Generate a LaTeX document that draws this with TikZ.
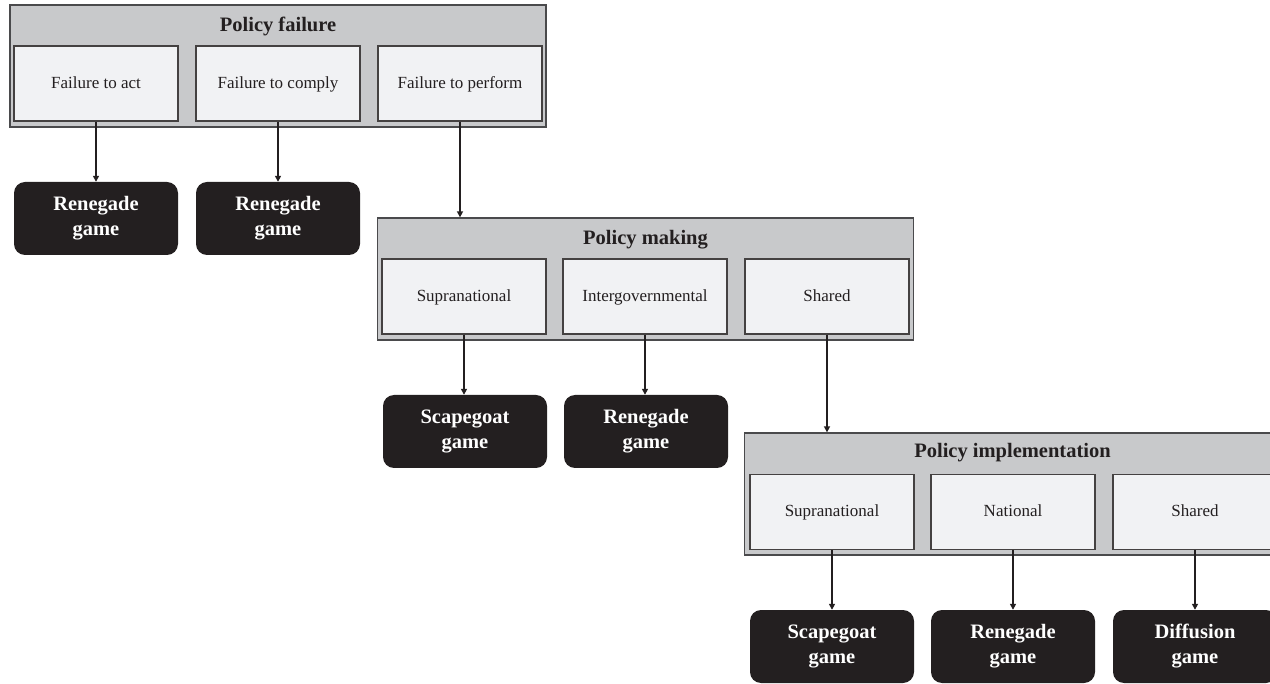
\documentclass[tikz,border=0pt]{standalone}
\usepackage{fontspec}
\setmainfont{Liberation Serif}
\usetikzlibrary{arrows.meta}
\definecolor{groupfill}{HTML}{C8C9CB}
\definecolor{itemfill}{HTML}{F1F2F4}
\definecolor{edgegray}{HTML}{4A4A4C}
\definecolor{gameblack}{HTML}{231F20}
\tikzset{
  group/.style={draw=edgegray, line width=1.3pt, fill=groupfill, minimum width=536pt, minimum height=122pt, inner sep=0pt},
  grouptitle/.style={font=\fontsize{20.5}{24}\selectfont\bfseries, text=gameblack, inner sep=0pt, anchor=base},
  item/.style={draw=gameblack!85, line width=1.2pt, fill=itemfill, minimum width=164pt, minimum height=75pt, inner sep=0pt, text height=10pt, text depth=0pt, font=\fontsize{17}{20}\selectfont, text=gameblack},
  game/.style={fill=gameblack, rounded corners=11pt, minimum width=164pt, minimum height=73pt, inner sep=0pt, align=center, text=white, font=\fontsize{20.5}{25}\selectfont\bfseries},
  link/.style={draw=gameblack, line width=2pt, -{Triangle[length=6pt,width=6pt]}}
}
\begin{document}
\begin{tikzpicture}[x=1pt,y=-1pt]
\clip (0,0) rectangle (1270,684);

% Policy failure
\node[group] (pf) at (278,66) {};
\node[grouptitle] (pft) at (278,32) {Policy failure};
\node[item] (pf1) at (96,83.5) {Failure to act};
\node[item] (pf2) at (278,83.5) {Failure to comply};
\node[item] (pf3) at (460,83.5) {Failure to perform};
\node[game] (g1) at (96,218.5) {Renegade\\game};
\node[game] (g2) at (278,218.5) {Renegade\\game};

% Policy making
\node[group] (pm) at (645.5,279) {};
\node[grouptitle] (pmt) at (645.5,245) {Policy making};
\node[item] (pm1) at (464,296.5) {Supranational};
\node[item] (pm2) at (645,296.5) {Intergovernmental};
\node[item] (pm3) at (827,296.5) {Shared};
\node[game] (g3) at (465,431.5) {Scapegoat\\game};
\node[game] (g4) at (646,431.5) {Renegade\\game};

% Policy implementation
\node[group] (pi) at (1012.5,494) {};
\node[grouptitle] (pit) at (1012.5,458) {Policy implementation};
\node[item] (pi1) at (832,512) {Supranational};
\node[item] (pi2) at (1013,512) {National};
\node[item] (pi3) at (1195,512) {Shared};
\node[game] (g5) at (832,646.5) {Scapegoat\\game};
\node[game] (g6) at (1013,646.5) {Renegade\\game};
\node[game] (g7) at (1195,646.5) {Diffusion\\game};

% Connectors
\draw[link] (pf1.south) -- (g1.north);
\draw[link] (pf2.south) -- (g2.north);
\draw[link] (pf3.south) -- (pf3.south |- pm.north);
\draw[link] (pm1.south) -- (pm1.south |- g3.north);
\draw[link] (pm2.south) -- (pm2.south |- g4.north);
\draw[link] (pm3.south) -- (pm3.south |- pi.north);
\draw[link] (pi1.south) -- (pi1.south |- g5.north);
\draw[link] (pi2.south) -- (pi2.south |- g6.north);
\draw[link] (pi3.south) -- (pi3.south |- g7.north);
\end{tikzpicture}
\end{document}
